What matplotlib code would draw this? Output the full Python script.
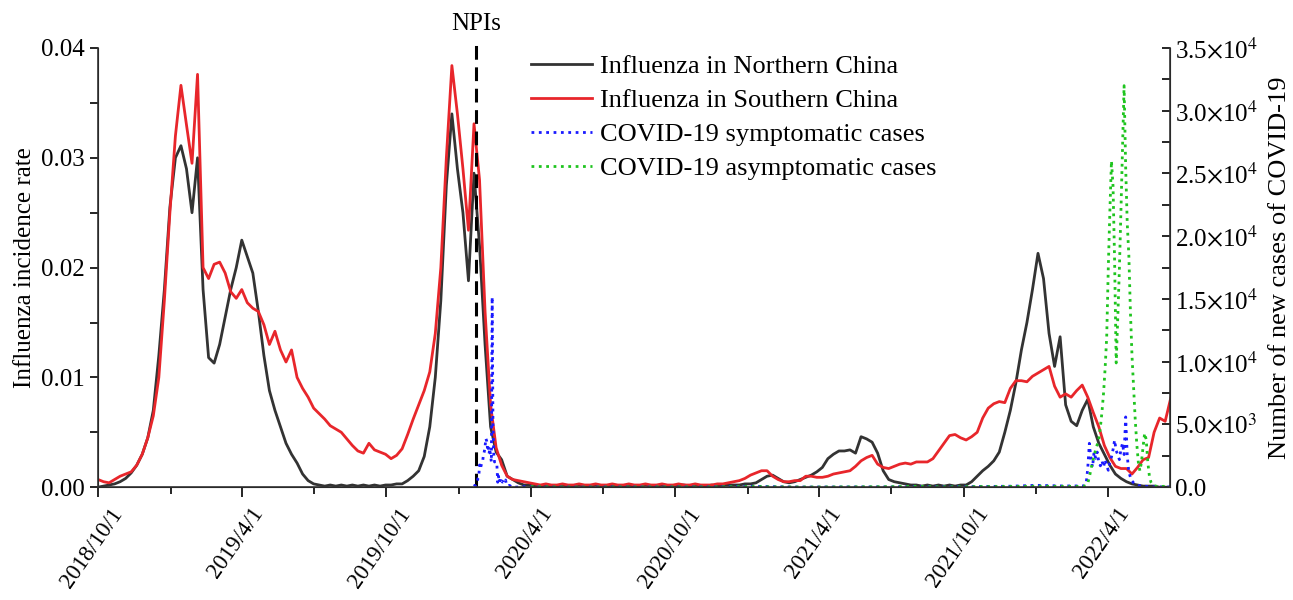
import matplotlib
matplotlib.use("Agg")
import matplotlib.pyplot as plt
import matplotlib.dates as mdates
import matplotlib.transforms as mtransforms
from matplotlib.ticker import MultipleLocator, FuncFormatter
import numpy as np
import pandas as pd

plt.rcParams.update({
    "font.family": "Liberation Serif",
    "mathtext.fontset": "stix",
})

# weekly influenza incidence rate, starting 2018/10/1
flu_start = "2018-10-01"
flu_north = [
    0.0000, 0.0001, 0.0002, 0.0003, 0.0005, 0.0008, 0.0013, 0.0020, 0.0030, 0.0045,
    0.0070, 0.0120, 0.0180, 0.0255, 0.0300, 0.0311, 0.0290, 0.0250, 0.0300, 0.0180,
    0.0118, 0.0113, 0.0130, 0.0155, 0.0180, 0.0200, 0.0225, 0.0210, 0.0195, 0.0160,
    0.0120, 0.0088, 0.0070, 0.0055, 0.0040, 0.0030, 0.0022, 0.0012, 0.0006, 0.0003,
    0.0002, 0.0001, 0.0002, 0.0001, 0.0002, 0.0001, 0.0002, 0.0001, 0.0002, 0.0001,
    0.0002, 0.0001, 0.0002, 0.0002, 0.0003, 0.0003, 0.0006, 0.0010, 0.0015, 0.0028,
    0.0055, 0.0100, 0.0170, 0.0275, 0.0340, 0.0290, 0.0250, 0.0188, 0.0286, 0.0220,
    0.0130, 0.0055, 0.0032, 0.0025, 0.0010, 0.0007, 0.0004, 0.0002, 0.0002, 0.0001,
    0.0001, 0.0002, 0.0001, 0.0001, 0.0002, 0.0001, 0.0001, 0.0002, 0.0001, 0.0001,
    0.0002, 0.0001, 0.0001, 0.0002, 0.0001, 0.0001, 0.0002, 0.0001, 0.0001, 0.0002,
    0.0001, 0.0001, 0.0002, 0.0001, 0.0001, 0.0002, 0.0002, 0.0001, 0.0002, 0.0001,
    0.0001, 0.0002, 0.0001, 0.0002, 0.0002, 0.0002, 0.0002, 0.0003, 0.0003, 0.0004,
    0.0007, 0.0010, 0.0011, 0.0008, 0.0005, 0.0004, 0.0005, 0.0007, 0.0009, 0.0011,
    0.0014, 0.0018, 0.0026, 0.0030, 0.0033, 0.0033, 0.0034, 0.0031, 0.0046, 0.0044,
    0.0041, 0.0031, 0.0015, 0.0007, 0.0005, 0.0004, 0.0003, 0.0002, 0.0002, 0.0001,
    0.0002, 0.0001, 0.0002, 0.0001, 0.0002, 0.0001, 0.0002, 0.0002, 0.0005, 0.0010,
    0.0015, 0.0019, 0.0024, 0.0032, 0.0050, 0.0070, 0.0095, 0.0125, 0.0150, 0.0180,
    0.0213, 0.0190, 0.0140, 0.0110, 0.0137, 0.0075, 0.0060, 0.0056, 0.0070, 0.0080,
    0.0055, 0.0040, 0.0030, 0.0020, 0.0012, 0.0008, 0.0005, 0.0003, 0.0002, 0.0001,
    0.0001, 0.0001, 0.0000, 0.0000, 0.0000,
]
flu_south = [
    0.0007, 0.0005, 0.0004, 0.0007, 0.0010, 0.0012, 0.0014, 0.0020, 0.0030, 0.0045,
    0.0065, 0.0100, 0.0170, 0.0250, 0.0320, 0.0366, 0.0330, 0.0295, 0.0376, 0.0200,
    0.0190, 0.0203, 0.0205, 0.0195, 0.0178, 0.0172, 0.0180, 0.0168, 0.0163, 0.0160,
    0.0148, 0.0130, 0.0142, 0.0125, 0.0114, 0.0125, 0.0100, 0.0090, 0.0082, 0.0072,
    0.0067, 0.0062, 0.0056, 0.0053, 0.0050, 0.0044, 0.0038, 0.0033, 0.0031, 0.0040,
    0.0034, 0.0032, 0.0030, 0.0026, 0.0029, 0.0035, 0.0048, 0.0062, 0.0075, 0.0088,
    0.0105, 0.0140, 0.0200, 0.0300, 0.0384, 0.0340, 0.0290, 0.0234, 0.0331, 0.0280,
    0.0160, 0.0075, 0.0036, 0.0020, 0.0010, 0.0007, 0.0006, 0.0005, 0.0004, 0.0003,
    0.0002, 0.0003, 0.0002, 0.0002, 0.0003, 0.0002, 0.0002, 0.0003, 0.0002, 0.0002,
    0.0003, 0.0002, 0.0002, 0.0003, 0.0002, 0.0002, 0.0003, 0.0002, 0.0002, 0.0003,
    0.0002, 0.0002, 0.0003, 0.0002, 0.0002, 0.0003, 0.0002, 0.0002, 0.0003, 0.0002,
    0.0002, 0.0002, 0.0003, 0.0003, 0.0004, 0.0005, 0.0006, 0.0008, 0.0011, 0.0013,
    0.0015, 0.0015, 0.0010, 0.0007, 0.0005, 0.0005, 0.0006, 0.0006, 0.0010, 0.0010,
    0.0009, 0.0009, 0.0010, 0.0012, 0.0013, 0.0014, 0.0015, 0.0019, 0.0024, 0.0027,
    0.0029, 0.0021, 0.0018, 0.0017, 0.0019, 0.0021, 0.0022, 0.0021, 0.0023, 0.0023,
    0.0023, 0.0026, 0.0033, 0.0040, 0.0047, 0.0048, 0.0045, 0.0043, 0.0046, 0.0050,
    0.0063, 0.0072, 0.0076, 0.0078, 0.0077, 0.0090, 0.0097, 0.0097, 0.0096, 0.0101,
    0.0104, 0.0107, 0.0110, 0.0092, 0.0082, 0.0085, 0.0082, 0.0088, 0.0093, 0.0082,
    0.0068, 0.0055, 0.0038, 0.0027, 0.0019, 0.0017, 0.0017, 0.0012, 0.0018, 0.0025,
    0.0027, 0.0050, 0.0063, 0.0060, 0.0081,
]

# COVID-19 daily symptomatic cases, first wave (from 2020/1/20)
sym_2020_start = "2020-01-20"
sym_2020 = [
    77, 149, 131, 259, 444, 688, 769, 1771, 1459, 1737, 1982, 2102,
    2590, 2829, 3235, 3887, 3694, 3143, 3399, 2656, 3062, 2478, 2015, 15152,
    5090, 2641, 2009, 2048, 1886, 1749, 394, 889, 397, 648, 409, 508, 406,
    433, 327, 427, 573, 202, 125, 119, 139, 143, 99, 44, 40, 19, 24, 15, 8,
    11, 20, 21, 13, 34, 39, 41, 46,
]
# monthly low-level period, 2020/4/1 - 2022/2/1
low_start = "2020-04-01"
sym_low = [40, 10, 10, 20, 15, 20, 15, 20, 30, 80, 40, 10, 15, 20, 20, 20,
           60, 30, 40, 60, 80, 150, 100]
asym_low = [50, 20, 10, 15, 20, 20, 25, 20, 30, 60, 30, 15, 15, 20, 30, 40,
            70, 30, 40, 50, 60, 80, 70]
# 2022 wave, every 2 days from 2022/3/1
wave_2022_start = "2022-03-01"
sym_2022 = [
    100, 150, 300, 1500, 3500, 2300, 1600, 2800, 2300, 2800, 2000, 1700, 2100, 1600, 2200, 1700,
    1350, 2000, 2400, 3000, 3750, 2900, 2600, 2200, 3000, 3500, 2600, 5600, 2500, 1200, 800,
    500, 350, 250, 200, 150, 120, 100, 90, 80, 70, 60, 50, 40, 40, 30,
    30, 25, 25, 20, 20, 20, 20, 20, 20, 20,
]
asym_2022 = [
    60, 100, 150, 300, 800, 1400, 2000, 2500, 3000, 3400, 3800, 4800, 6000, 7500, 9500, 12000,
    17500, 22000, 26000, 24000, 18000, 9900, 13500, 17300, 22000, 27000, 32000, 25500, 21000, 18500, 14000,
    10500, 8000, 5500, 3500, 2000, 1300, 2000, 3200, 4300, 3800, 2000, 900, 400, 200, 120,
    90, 70, 60, 50, 60, 70, 60, 50, 60, 50,
]
npi_date = "2020-01-23"

flu_dates = pd.date_range(flu_start, periods=len(flu_north), freq="7D")
sym_dates = (pd.date_range(sym_2020_start, periods=len(sym_2020), freq="D")
             .append(pd.date_range(low_start, periods=len(sym_low), freq="MS"))
             .append(pd.date_range(wave_2022_start, periods=len(sym_2022), freq="2D")))
sym_vals = sym_2020 + sym_low + sym_2022
asym_dates = (pd.date_range(low_start, periods=len(asym_low), freq="MS")
              .append(pd.date_range(wave_2022_start, periods=len(asym_2022), freq="2D")))
asym_vals = asym_low + asym_2022

fs = 18
fig = plt.figure(figsize=(12.93, 6.0), dpi=100)
ax = fig.add_axes([0.0758, 0.188, 0.829, 0.732])
ax2 = ax.twinx()

l1, = ax.plot(flu_dates, flu_north, color="#333333", lw=2.0, label="Influenza in Northern China")
l2, = ax.plot(flu_dates, flu_south, color="#e8262b", lw=2.0, label="Influenza in Southern China")
l3, = ax2.plot(sym_dates, sym_vals, color="#1a1aff", lw=2.0, ls=":", label="COVID-19 symptomatic cases")
l4, = ax2.plot(asym_dates, asym_vals, color="#1fc41f", lw=2.0, ls=":", label="COVID-19 asymptomatic cases")

npi = pd.Timestamp(npi_date)
ax.plot([npi, npi], [0, 0.0406], color="black", lw=2.2, ls=(0, (4.5, 2.5)), clip_on=False, zorder=5)
ax.text(npi, 0.0412, "NPIs", ha="center", va="bottom", fontsize=fs)

ax.set_xlim(pd.Timestamp("2018-10-01"), pd.Timestamp("2022-06-19"))
ax.set_ylim(0, 0.04)
ax2.set_ylim(0, 35000)

ax.yaxis.set_major_locator(MultipleLocator(0.01))
ax.yaxis.set_minor_locator(MultipleLocator(0.005))
ax.yaxis.set_major_formatter(FuncFormatter(lambda v, p: f"{v:.2f}"))
ax2.yaxis.set_major_locator(MultipleLocator(5000))
ax2.yaxis.set_minor_locator(MultipleLocator(2500))


def sci_fmt(v, p):
    if v <= 0:
        return "0.0"
    e = int(np.floor(np.log10(v)))
    m = v / 10 ** e
    return rf"{m:.1f}$\times$10$^{{{e}}}$"


ax2.yaxis.set_major_formatter(FuncFormatter(sci_fmt))

ax.xaxis.set_major_locator(mdates.MonthLocator(bymonth=[4, 10], bymonthday=1))
ax.xaxis.set_minor_locator(mdates.MonthLocator(bymonth=[1, 7], bymonthday=1))
ax.xaxis.set_major_formatter(FuncFormatter(
    lambda v, p: f"{mdates.num2date(v).year}/{mdates.num2date(v).month}/{mdates.num2date(v).day}"))

ax.tick_params(axis="x", which="both", direction="out", labelsize=fs - 1.5, pad=5)
ax.tick_params(axis="x", which="major", length=7, width=1.2, rotation=55)
ax.tick_params(axis="x", which="minor", length=5, width=1.2)
ax.tick_params(axis="y", which="both", direction="out", length=6, width=1.2, labelsize=fs)
ax2.tick_params(axis="y", which="both", direction="in", length=6, width=1.2, labelsize=fs)

# nudge the slanted date labels a little to the left, as in the original
shift = mtransforms.ScaledTranslation(-6 / 100, 0, fig.dpi_scale_trans)
for lab in ax.get_xticklabels():
    lab.set_transform(lab.get_transform() + shift)

for s in ["top"]:
    ax.spines[s].set_visible(False)
    ax2.spines[s].set_visible(False)
for s in ["left", "bottom", "right"]:
    ax2.spines[s].set_linewidth(1.2)
    ax2.spines[s].set_color("#333333")

ax.set_ylabel("Influenza incidence rate", fontsize=fs, labelpad=4)
ax2.set_ylabel("Number of new cases of COVID-19", fontsize=fs + 1, labelpad=8)

ax.legend(handles=[l1, l2, l3, l4], loc="upper left", bbox_to_anchor=(0.404, 0.985),
          frameon=False, fontsize=fs + 1, handlelength=2.3, handletextpad=0.3,
          labelspacing=0.4, borderpad=0, borderaxespad=0)

fig.savefig("out.png", dpi=100)
